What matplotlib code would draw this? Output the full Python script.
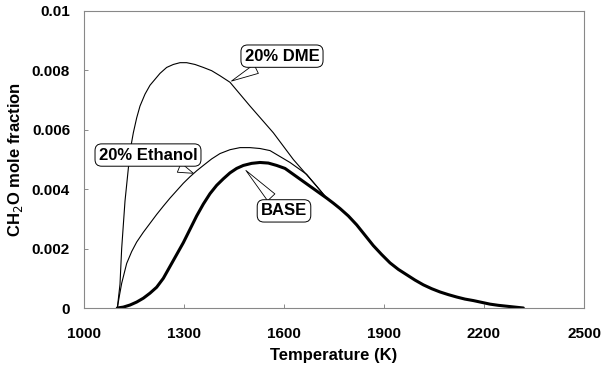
import matplotlib
matplotlib.use("Agg")
import matplotlib.pyplot as plt

plt.rcParams['font.family'] = ['Liberation Sans', 'DejaVu Sans']

# Data
dme_T = [1100, 1104, 1108, 1113, 1118, 1123, 1133, 1140, 1148, 1158, 1168, 1183, 1198,
         1213, 1228, 1248, 1268, 1288, 1308, 1333, 1358, 1383, 1408, 1438, 1468, 1498,
         1533, 1568, 1598, 1628, 1663, 1698, 1728]
dme_y = [0, 0.0004, 0.0008, 0.0020, 0.0028, 0.0036, 0.0047, 0.0054, 0.0059, 0.0064,
         0.0068, 0.0072, 0.0075, 0.0077, 0.0079, 0.0081, 0.0082, 0.00826, 0.00826,
         0.0082, 0.0081, 0.00799, 0.00782, 0.0076, 0.0072, 0.0068, 0.00635, 0.0059,
         0.00545, 0.0050, 0.00455, 0.0041, 0.0037]

eth_T = [1100, 1106, 1113, 1128, 1143, 1158, 1178, 1198, 1218, 1238, 1258, 1278, 1298,
         1318, 1338, 1358, 1383, 1408, 1438, 1468, 1498, 1528, 1558, 1588, 1618, 1643,
         1668, 1698, 1728]
eth_y = [0, 0.0004, 0.00083, 0.0015, 0.0019, 0.00222, 0.00255, 0.00285, 0.00315,
         0.00343, 0.0037, 0.00395, 0.0042, 0.00442, 0.00462, 0.0048, 0.00502, 0.0052,
         0.00533, 0.0054, 0.0054, 0.00537, 0.0053, 0.0051, 0.0049, 0.0047, 0.0045,
         0.0041, 0.0037]

base_T = [1100, 1118, 1138, 1158, 1178, 1198, 1218, 1238, 1258, 1278, 1298, 1318, 1338,
          1358, 1378, 1398, 1418, 1438, 1458, 1478, 1503, 1528, 1553, 1578, 1603, 1628,
          1653, 1678, 1703, 1728, 1748, 1768, 1793, 1818, 1843, 1868, 1893, 1918, 1943,
          1968, 1993, 2018, 2043, 2068, 2093, 2118, 2143, 2168, 2193, 2218, 2243, 2268,
          2293, 2318]
base_y = [0, 0.00003, 0.0001, 0.0002, 0.00033, 0.0005, 0.0007, 0.0010, 0.0014, 0.0018,
          0.0022, 0.00265, 0.0031, 0.0035, 0.00385, 0.00413, 0.00435, 0.00455, 0.0047,
          0.0048, 0.00487, 0.0049, 0.00488, 0.0048, 0.0047, 0.0045, 0.0043, 0.0041,
          0.0039, 0.0037, 0.00353, 0.00335, 0.0031, 0.0028, 0.00245, 0.0021, 0.0018,
          0.00152, 0.0013, 0.00112, 0.00094, 0.00078, 0.00065, 0.00054, 0.00045, 0.00037,
          0.0003, 0.00025, 0.00019, 0.00013, 0.00009, 0.00006, 0.00003, 0]

xticks = [1000, 1300, 1600, 1900, 2200, 2500]
yticks = [0, 0.002, 0.004, 0.006, 0.008, 0.01]
ytick_labels = ['0', '0.002', '0.004', '0.006', '0.008', '0.01']

fig = plt.figure(figsize=(6.06, 3.69), dpi=100)
ax = fig.add_axes([84/606, 1 - 308/369, 500/606, 297/369])

ax.plot(base_T, base_y, color='black', lw=2.2, solid_capstyle='round', solid_joinstyle='round')
ax.plot(dme_T, dme_y, color='black', lw=0.8, solid_joinstyle='round')
ax.plot(eth_T, eth_y, color='black', lw=0.8, solid_joinstyle='round')

ax.set_xlim(1000, 2500)
ax.set_ylim(0, 0.01)
ax.set_xticks(xticks)
ax.set_xticklabels([str(t) for t in xticks])
ax.set_yticks(yticks)
ax.set_yticklabels(ytick_labels)
ax.tick_params(direction='in', length=3, width=0.6, color='#777777', labelsize=11)
ax.tick_params(axis='x', pad=14)
ax.tick_params(axis='y', pad=10)
for lab in ax.get_xticklabels() + ax.get_yticklabels():
    lab.set_fontweight('bold')
for s in ax.spines.values():
    s.set_color('#888888')
    s.set_linewidth(0.8)

ax.set_xlabel('Temperature (K)', fontsize=12, fontweight='bold', labelpad=5)
ax.set_ylabel('CH$_2$O mole fraction', fontsize=12, fontweight='bold', labelpad=5)

box = dict(boxstyle='round,pad=0.22,rounding_size=0.4', fc='white', ec='black', lw=0.7)
arrow = dict(arrowstyle='wedge,tail_width=0.6,shrink_factor=0.5', fc='white', ec='black', lw=0.6)

ax.annotate('20% DME', xy=(1435, 0.0076), xytext=(1594, 0.00848),
            ha='center', va='center', fontsize=12, fontweight='bold',
            bbox=box, arrowprops=arrow)
ax.annotate('20% Ethanol', xy=(1336, 0.0045), xytext=(1192, 0.00515),
            ha='center', va='center', fontsize=12, fontweight='bold',
            bbox=box, arrowprops=arrow)
ax.annotate('BASE', xy=(1480, 0.0047), xytext=(1600, 0.00327),
            ha='center', va='center', fontsize=12, fontweight='bold',
            bbox=box, arrowprops=arrow)

fig.savefig('out.png', dpi=100)
